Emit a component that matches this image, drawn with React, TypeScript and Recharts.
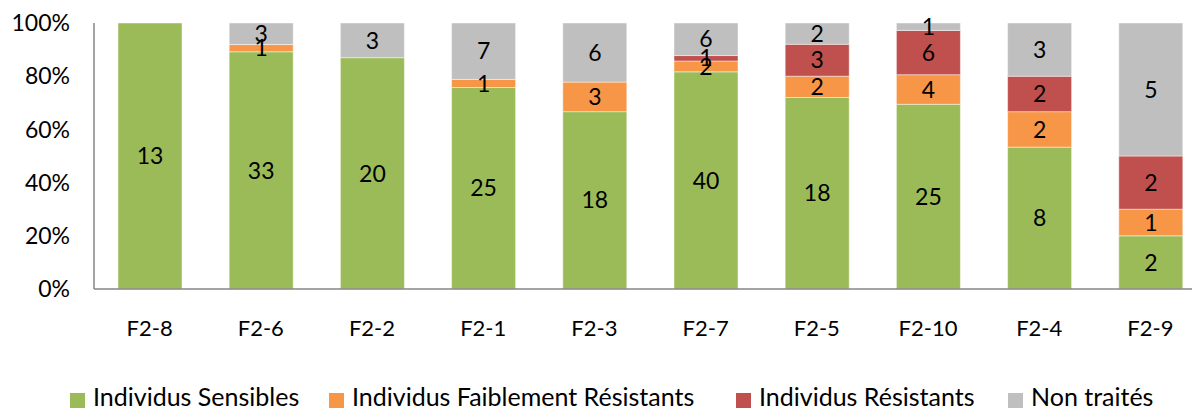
import { BarChart, Bar, XAxis, YAxis, LabelList } from 'recharts';

const groups = ['F2-8', 'F2-6', 'F2-2', 'F2-1', 'F2-3', 'F2-7', 'F2-5', 'F2-10', 'F2-4', 'F2-9'];
const sensibles = [13, 33, 20, 25, 18, 40, 18, 25, 8, 2];
const faiblement = [0, 1, 0, 1, 3, 2, 2, 4, 2, 1];
const resistants = [0, 0, 0, 0, 0, 1, 3, 6, 2, 2];
const nonTraites = [0, 3, 3, 7, 6, 6, 2, 1, 3, 5];
const yTicks = [0, 0.2, 0.4, 0.6, 0.8, 1];

const series = [
  { key: 's', name: 'Individus Sensibles', color: '#9bbb59', x: 70 },
  { key: 'f', name: 'Individus Faiblement Résistants', color: '#f79646', x: 329 },
  { key: 'r', name: 'Individus Résistants', color: '#c0504d', x: 736 },
  { key: 'n', name: 'Non traités', color: '#bfbfbf', x: 1008 },
];

const data = groups.map((g, i) => ({
  name: g,
  s: sensibles[i],
  f: faiblement[i],
  r: resistants[i],
  n: nonTraites[i],
}));

const FONT = 'Lato, "Noto Sans", sans-serif';

export default function App() {
  return (
    <div style={{ position: 'absolute', left: 0, top: 0, width: 1192, height: 410, overflow: 'hidden', background: '#fff', fontFamily: FONT }}>
      <BarChart
        width={1206}
        height={410}
        data={data}
        stackOffset="expand"
        margin={{ top: 23, right: 0, left: 0, bottom: 91 }}
      >
        <XAxis
          dataKey="name"
          axisLine={{ stroke: '#868686', strokeWidth: 1.5 }}
          tickLine={false}
          tickSize={0}
          tickMargin={31}
          height={30}
          tick={{ fontSize: 22, fill: '#000', fontFamily: FONT }}
        />
        <YAxis
          width={94}
          domain={[0, 1]}
          ticks={yTicks}
          tickFormatter={(v: number) => `${Math.round(v * 100)}%`}
          axisLine={{ stroke: '#868686', strokeWidth: 1.5 }}
          tickLine={false}
          tickSize={18}
          tickMargin={6}
          tick={{ fontSize: 23, fill: '#000', fontFamily: FONT }}
        />
        {series.map((s) => (
          <Bar
            key={s.key}
            dataKey={s.key}
            name={s.name}
            stackId="a"
            fill={s.color}
            stroke="rgba(255,255,255,0.45)"
            strokeWidth={1}
            barSize={64}
            isAnimationActive={false}
          >
            <LabelList
              dataKey={s.key}
              position="center"
              formatter={(v: any) => (v ? v : '')}
              style={{ fontSize: 23, fill: '#000', fontFamily: FONT }}
            />
          </Bar>
        ))}
      </BarChart>
      {series.map((s) => (
        <div key={s.key}>
          <div style={{ position: 'absolute', left: s.x, top: 393, width: 15, height: 15, background: s.color }} />
          <span
            style={{
              position: 'absolute',
              left: s.x + 23,
              top: 381,
              fontSize: 25,
              lineHeight: '30px',
              color: '#000',
              whiteSpace: 'nowrap',
            }}
          >
            {s.name}
          </span>
        </div>
      ))}
    </div>
  );
}
